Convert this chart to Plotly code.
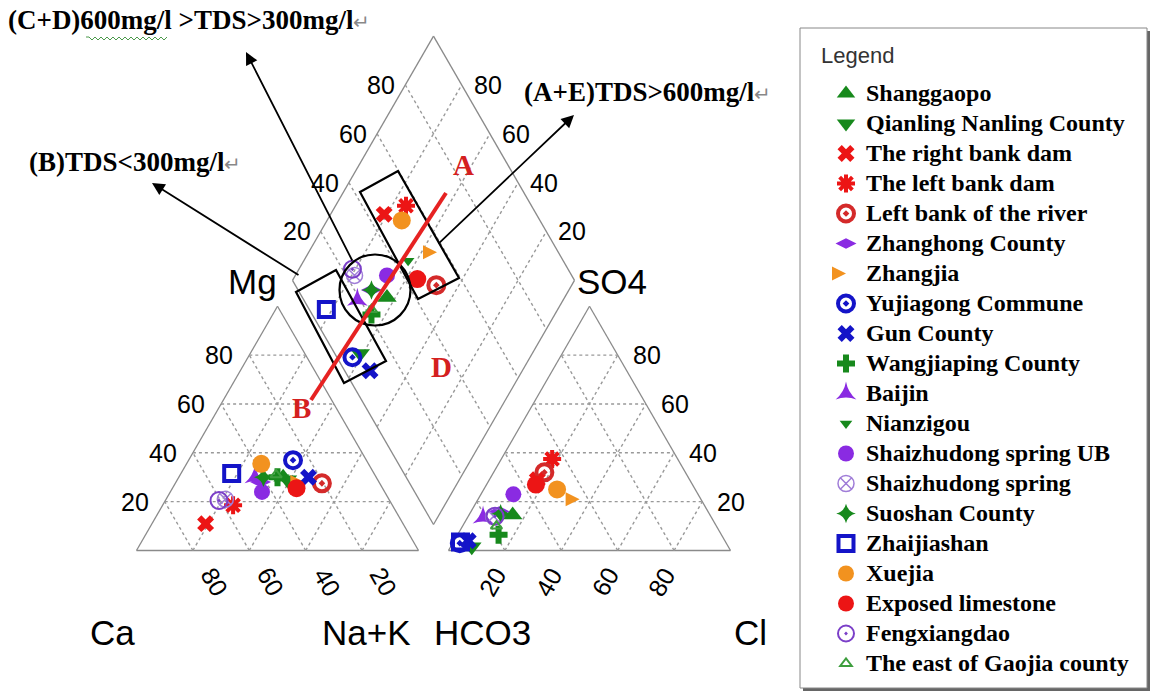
import math
import plotly.graph_objects as go

# ---------------- data (percent of meq) ----------------
sites = ["Shanggaopo", "Qianling Nanling County", "The right bank dam", "The left bank dam",
         "Left bank of the river", "Zhanghong County", "Zhangjia", "Yujiagong Commune",
         "Gun County", "Wangjiaping County", "Baijin", "Nianzigou", "Shaizhudong spring UB",
         "Shaizhudong spring", "Suoshan County", "Zhaijiashan", "Xuejia", "Exposed limestone",
         "Fengxiangdao", "The east of Gaojia county"]
ca_pct = [33, 32, 70, 56.5, 20.5, 42, 26.5, 26, 24, 35, 43, 33, 43.5, 58, 40, 50.5, 38, 30.5, 60.5, 35]
mg_pct = [30, 29, 11, 18.5, 27.5, 28, 28, 37, 30, 30, 30, 30, 24, 21, 30, 31.5, 35.5, 25.5, 20.5, 31]
so4_pct = [14.5, 1.5, 29, 37.5, 32, 16, 21, 3, 4, 6.5, 13.5, 28, 23, 14, 15, 3.5, 25, 27, 14, 10]
cl_pct = [15.5, 7.5, 17, 18, 18, 10, 36, 2.5, 5, 14.5, 5.5, 17, 11.5, 9, 11, 2.5, 26, 17.5, 9.5, 12]

tick_vals = [20, 40, 60, 80]

# ---------------- styles ----------------
GREEN = "#17891c"
RED = "#ec1515"
PURPLE = "#8a2be2"
BLUE = "#1414c8"
ORANGE = "#f2921f"
styles = [
    ("triangle-up", GREEN, 17, 0),
    ("triangle-down", GREEN, 17, 0),
    ("x", RED, 15, 0),
    ("asterisk-open", RED, 15, 4),
    ("circle-open-dot", "#d42a2a", 16, 4),
    ("diamond-wide", PURPLE, 15, 0),
    ("arrow-right", ORANGE, 14, 0),
    ("circle-open-dot", BLUE, 16, 4),
    ("x", BLUE, 15, 0),
    ("cross", GREEN, 15, 0),
    ("star-triangle-up", PURPLE, 15, 0),
    ("triangle-down", GREEN, 11, 0),
    ("circle", PURPLE, 16, 0),
    ("circle-x-open", "#a07dd8", 16, 1.5),
    ("star-diamond", GREEN, 14, 0),
    ("square-open", BLUE, 15, 4),
    ("circle", ORANGE, 18, 0),
    ("circle", RED, 18, 0),
    ("circle-open-dot", "#7b3fc8", 17, 2),
    ("triangle-up-open", "#3d9e3d", 10, 2),
]

# ---------------- geometry ----------------
S = 282.0
G = 30.0
X0 = 136.5
Y0 = 550.5
H = S * math.sqrt(3) / 2
BX = X0 + S + G / 2
BY = Y0 - G * math.sqrt(3) / 2


def cat_xy(ca, mg):
    nak = 100 - ca - mg
    return X0 + S * (nak + mg / 2) / 100, Y0 - H * mg / 100


def an_xy(so4, cl):
    return X0 + S + G + S * (cl + so4 / 2) / 100, Y0 - H * so4 / 100


def dia_xy(nak, a):
    u = 1 - nak / 100
    a = a / 100
    return BX + S * (-0.5 * u + 0.5 * a), BY - H * (u + a)


fig = go.Figure()
shapes = []
annots = []

EDGE = dict(color="#8a8a8a", width=1.3)
GRID = dict(color="#999999", width=1.4, dash="dot")


def seg(p, q, line):
    shapes.append(dict(type="line", xref="x", yref="y", x0=p[0], y0=p[1], x1=q[0], y1=q[1],
                       line=line, layer="below"))


# legend frame (drawn first, below everything)
shapes.append(dict(type="rect", xref="x", yref="y", layer="below", x0=803, y0=31, x1=1150, y1=691,
                   line=dict(width=0), fillcolor="#666666"))
shapes.append(dict(type="rect", xref="x", yref="y", layer="below", x0=800, y0=28, x1=1147, y1=688,
                   line=dict(color="#888888", width=1), fillcolor="white"))

# triangles
L_ca = cat_xy(100, 0); L_na = cat_xy(0, 0); L_mg = cat_xy(0, 100)
seg(L_ca, L_na, EDGE); seg(L_na, L_mg, EDGE); seg(L_mg, L_ca, EDGE)
R_hc = an_xy(0, 0); R_cl = an_xy(0, 100); R_so = an_xy(100, 0)
seg(R_hc, R_cl, EDGE); seg(R_cl, R_so, EDGE); seg(R_so, R_hc, EDGE)
D_b = dia_xy(100, 0); D_l = dia_xy(0, 0); D_t = dia_xy(0, 100); D_r = dia_xy(100, 100)
seg(D_b, D_l, EDGE); seg(D_l, D_t, EDGE); seg(D_t, D_r, EDGE); seg(D_r, D_b, EDGE)

for v in tick_vals:
    seg(cat_xy(100 - v, v), cat_xy(0, v), GRID)          # Mg = v
    seg(cat_xy(v, 0), cat_xy(v, 100 - v), GRID)          # Ca = v
    seg(cat_xy(100 - v, 0), cat_xy(0, 100 - v), GRID)    # NaK = v
    seg(an_xy(v, 0), an_xy(v, 100 - v), GRID)            # SO4 = v
    seg(an_xy(0, v), an_xy(100 - v, v), GRID)            # Cl = v
    seg(an_xy(0, 100 - v), an_xy(100 - v, 0), GRID)      # HCO3 = v
    seg(dia_xy(v, 0), dia_xy(v, 100), GRID)
    seg(dia_xy(0, v), dia_xy(100, v), GRID)

# tick labels
TICKF = dict(family="Liberation Sans, Arial", size=25, color="black")
for v in tick_vals:
    y = Y0 - H * v / 100
    x = X0 + S * (v / 2) / 100
    annots.append(dict(x=x - 30, y=y, text=str(v), showarrow=False, font=TICKF))
    x, y = an_xy(v, 100 - v)
    annots.append(dict(x=x + 29, y=y, text=str(v), showarrow=False, font=TICKF))
    x, y = cat_xy(v, 0)
    annots.append(dict(x=x + 22, y=y + 31, text=str(v), showarrow=False, font=TICKF, textangle=60))
    x, y = an_xy(0, v)
    annots.append(dict(x=x - 13, y=y + 31, text=str(v), showarrow=False, font=TICKF, textangle=-60))
    x, y = dia_xy(0, v)
    annots.append(dict(x=x - 24, y=y, text=str(v), showarrow=False, font=TICKF))
    x, y = dia_xy(100 - v, 100)
    annots.append(dict(x=x + 26, y=y, text=str(v), showarrow=False, font=TICKF))

CORNF = dict(family="Liberation Sans, Arial", size=35, color="black")
for txt, px, py in [("Ca", 112, 632), ("Na+K", 366, 632), ("HCO3", 482, 632), ("Cl", 750, 632),
                    ("Mg", 252, 281), ("SO4", 612, 281)]:
    annots.append(dict(x=px, y=py, text=txt, showarrow=False, font=CORNF))

# data markers
for i, name in enumerate(sites):
    cx, cy = cat_xy(ca_pct[i], mg_pct[i])
    ax_, ay_ = an_xy(so4_pct[i], cl_pct[i])
    nak = 100 - ca_pct[i] - mg_pct[i]
    dx, dy = dia_xy(nak, so4_pct[i] + cl_pct[i])
    sym, col, size, lw = styles[i]
    fig.add_trace(go.Scatter(
        x=[cx, ax_, dx], y=[cy, ay_, dy], mode="markers",
        name="<span style='font-size:24px'><b>%s</b></span>" % name, legendgroup=name,
        marker=dict(symbol=sym, color=col, size=size,
                    line=dict(color=col, width=lw)),
        hovertext=name, hoverinfo="text"))

# region boxes, circle, red line
BOX = dict(color="black", width=2.2)
shapes.append(dict(type="path", xref="x", yref="y", layer="above", line=BOX,
                   path="M360,192 L398,171 L459,278 L418,299 Z"))
shapes.append(dict(type="path", xref="x", yref="y", layer="above", line=BOX,
                   path="M296,292 L336,270 L386,361 L344,383 Z"))
shapes.append(dict(type="circle", xref="x", yref="y", layer="above", line=BOX,
                   x0=375 - 35.5, x1=375 + 35.5, y0=290 - 35.5, y1=290 + 35.5))
shapes.append(dict(type="line", xref="x", yref="y", layer="above",
                   x0=311, y0=400, x1=446, y1=193, line=dict(color="#e62222", width=4)))

# spell-check squiggle under "600mg/l"
zz = "M86,37" + "".join(" L%d,%d" % (86 + 3 * k, 37 + (3 if k % 2 == 0 else 0)) for k in range(1, 28))
shapes.append(dict(type="path", xref="x", yref="y", layer="above", path=zz,
                   line=dict(color="#4c9a4c", width=1)))

REDF = dict(family="Liberation Serif, Times New Roman", size=29, color="#d42020")
for txt, px, py in [("A", 463, 165), ("B", 301, 408), ("D", 441, 367)]:
    annots.append(dict(x=px, y=py, text="<b>%s</b>" % txt, showarrow=False, font=REDF))

TXTF = dict(family="Liberation Serif, Times New Roman", size=27, color="black")
RET = "<span style='color:#888888;font-size:20px'>\u21b5</span>"
annots.append(dict(x=6, y=20, xanchor="left", text="<b>(C+D)600mg/l >TDS>300mg/l</b>" + RET,
                   showarrow=False, font=TXTF))
annots.append(dict(x=27, y=162, xanchor="left", text="<b>(B)TDS<300mg/l</b>" + RET,
                   showarrow=False, font=TXTF))
annots.append(dict(x=522, y=92, xanchor="left", text="<b>(A+E)TDS>600mg/l</b>" + RET,
                   showarrow=False, font=TXTF))

for (hx, hy, tx, ty) in [(246, 52, 353, 262), (152, 183, 300, 276), (574, 115, 437, 245)]:
    annots.append(dict(x=hx, y=hy, ax=tx, ay=ty, axref="x", ayref="y", text="",
                       showarrow=True, arrowhead=2, arrowsize=1.4, arrowwidth=1.8,
                       arrowcolor="black"))

# legend title
annots.append(dict(x=819, y=55, xanchor="left", text="Legend", showarrow=False,
                   font=dict(family="Liberation Sans, Arial", size=22, color="#333333")))

for a in annots:
    a.setdefault("xref", "x")
    a.setdefault("yref", "y")

fig.update_layout(
    width=1156, height=695, margin=dict(l=0, r=0, t=0, b=0),
    paper_bgcolor="white", plot_bgcolor="white",
    xaxis=dict(range=[0, 1156], visible=False, fixedrange=True),
    yaxis=dict(range=[695, 0], visible=False, fixedrange=True),
    shapes=shapes, annotations=annots,
    showlegend=True,
    legend=dict(x=826 / 1156, y=1 - 74 / 695, xanchor="left", yanchor="top",
                bgcolor="rgba(0,0,0,0)", borderwidth=0,
                traceorder="grouped", tracegroupgap=1, itemsizing="trace",
                font=dict(family="Liberation Serif, Times New Roman", size=20, color="black")),
)

fig.write_html("out.html", config={"displayModeBar": False},
               post_script="document.body.style.margin='0px';")
